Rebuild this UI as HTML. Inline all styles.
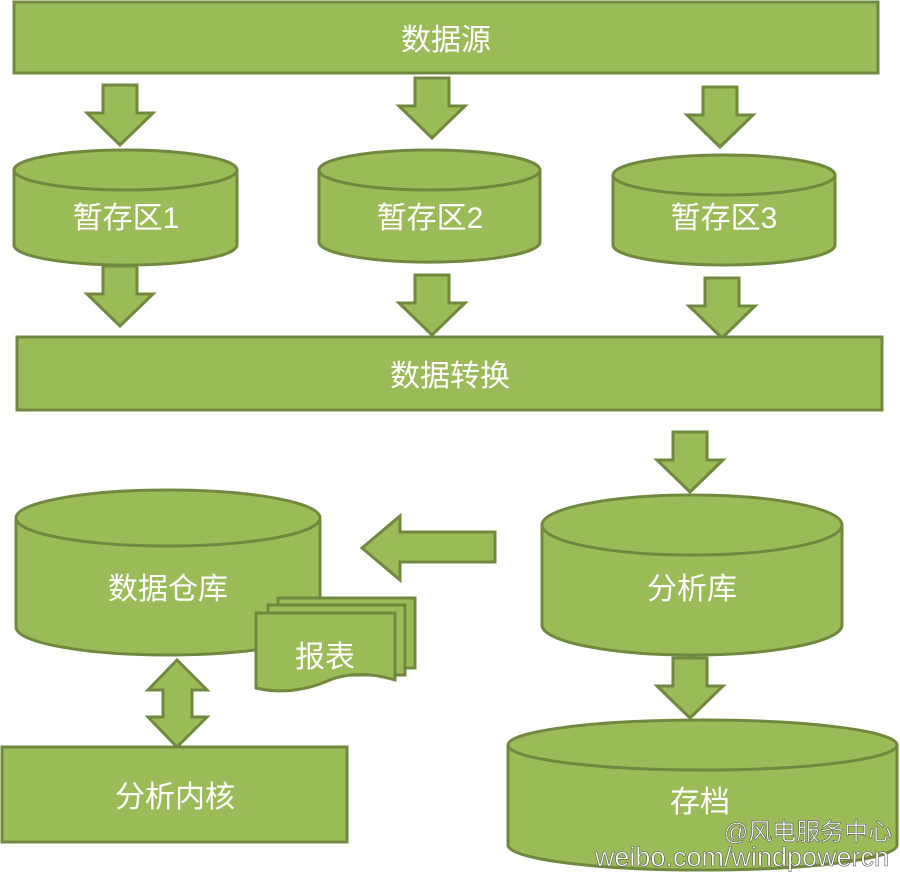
<!DOCTYPE html>
<html><head><meta charset="utf-8"><style>
html,body{margin:0;padding:0;background:#fff;}
svg{display:block;}
text{font-family:"Liberation Sans","Noto Sans CJK SC",sans-serif;fill:#fff;font-size:30px;text-anchor:middle;}
</style></head><body>
<svg width="900" height="875" viewBox="0 0 900 875" xmlns="http://www.w3.org/2000/svg">
<defs>
<g id="ad"><path d="M-17,0 H17 V28 H33 L0,60 L-33,28 H-17 Z"/></g>
</defs>
<g fill="#9bbb59" stroke="#71893f" stroke-width="3">
<rect x="14" y="2" width="864" height="71"/>
<use href="#ad" transform="translate(120,85)"/>
<use href="#ad" transform="translate(432,78)"/>
<use href="#ad" transform="translate(720,87)"/>
<path d="M14,170 V245 A111,20 0 0 0 237,245 V170"/>
<ellipse cx="125.5" cy="170" rx="111.5" ry="20"/>
<path d="M319,170 V242 A110,20 0 0 0 540,242 V170"/>
<ellipse cx="429.5" cy="170" rx="110.5" ry="20"/>
<path d="M613,175 V245 A111,20 0 0 0 835,245 V175"/>
<ellipse cx="724" cy="175" rx="111" ry="20"/>
<use href="#ad" transform="translate(120,266)"/>
<use href="#ad" transform="translate(432,275)"/>
<use href="#ad" transform="translate(722,278)"/>
<rect x="17" y="337" width="865" height="73"/>
<use href="#ad" transform="translate(690,432)"/>
<path d="M542,525 V625 A150,30 0 0 0 842,625 V525"/>
<ellipse cx="692" cy="525" rx="150" ry="30"/>
<path d="M495,532 H400 V516 L362,548 L400,580 V562 H495 Z"/>
<path d="M16,518 V627 A152,28 0 0 0 320,627 V518"/>
<ellipse cx="168" cy="518" rx="152" ry="28"/>
<rect x="278" y="598" width="137" height="70"/>
<rect x="268" y="605" width="137" height="70"/>
<path d="M256,613 H395 V680 Q355,668 325,682 Q290,696 256,688 Z"/>
<path d="M163,690 H148 L177,660 L207,690 H192 V717 H207 L177,747 L148,717 H163 Z"/>
<rect x="2" y="747" width="345" height="95"/>
<use href="#ad" transform="translate(690,658)"/>
<path d="M508,745 V845 A194,25 0 0 0 897,845 V745"/>
<ellipse cx="702.5" cy="745" rx="194.5" ry="25"/>
</g>
<text x="446" y="50">数据源</text>
<text x="126" y="228">暂存区1</text>
<text x="430" y="228">暂存区2</text>
<text x="724" y="228">暂存区3</text>
<text x="450" y="386">数据转换</text>
<text x="168" y="599">数据仓库</text>
<text x="692" y="599">分析库</text>
<text x="325" y="667">报表</text>
<text x="175" y="807">分析内核</text>
<text x="700" y="812">存档</text>
<text x="808" y="840" style="font-size:24px;stroke:#555;stroke-width:0.6">@风电服务中心</text>
<text x="742" y="866" style="font-size:27px;stroke:#555;stroke-width:0.6">weibo.com/windpowercn</text>
</svg>
</body></html>
